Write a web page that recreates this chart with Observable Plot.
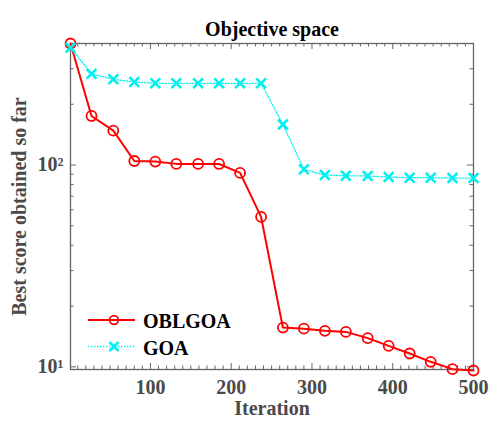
<!DOCTYPE html>
<html><head><meta charset="utf-8">
<script src="https://cdn.jsdelivr.net/npm/d3@7"></script>
<script src="https://cdn.jsdelivr.net/npm/@observablehq/plot@0.6"></script>
<style>body{margin:0;background:#fff} #chart{position:relative;width:491px;height:426px}</style>
</head><body><div id="chart"></div>
<script>
const iterations = [1,27,54,80,106,132,159,185,211,237,264,290,316,342,369,395,421,447,474,500];
const oblgoa = [400,175,148,104.7,104,101.3,101.3,101.2,91.4,55.3,15.65,15.45,15.08,14.9,13.87,12.7,11.64,10.59,9.74,9.59];
const goa = [381,283,266,258,254,254,254,254,254,254,159,95.2,89.2,88.5,88.2,87.2,86.5,86.5,86.2,86.2];
const seriesNames = ["OBLGOA","GOA"];
const xMajor = [100,200,300,400,500];
const xMinor = d3.range(10,500,10).filter(d => d % 100 !== 0);
const yMajor = [10,100];
const yMinor = [20,30,40,50,60,70,80,90,200,300];
const yTickLabels = {10:"10¹",100:"10²"};
const titleText = "Objective space";
const xLabel = "Iteration";
const yLabel = "Best score obtained so far";

const W=491,H=426,mL=70,mR=18,mT=43,mB=57;
const pw=W-mL-mR, ph=H-mT-mB;
const axisColor="#666";
const labelColor="#4a4a4a";
const red="#ff0000", cyan="#00f0f0";
const font="'Liberation Serif','Times New Roman',serif";

const plot = Plot.plot({
  width:W,height:H,marginLeft:mL,marginRight:mR,marginTop:mT,marginBottom:mB,
  style:{fontFamily:font,fontWeight:"bold",fontSize:"20px",background:"#fff",overflow:"visible"},
  x:{domain:[1,500]},
  y:{type:"log",domain:[9.7,400]},
  marks:[
    Plot.ruleX(xMajor,{x:d=>d,insetTop:ph-6,stroke:axisColor}),
    Plot.ruleX(xMajor,{x:d=>d,insetBottom:ph-6,stroke:axisColor}),
    Plot.ruleX(xMinor,{x:d=>d,insetTop:ph-3.5,stroke:axisColor}),
    Plot.ruleX(xMinor,{x:d=>d,insetBottom:ph-3.5,stroke:axisColor}),
    Plot.ruleY(yMajor,{y:d=>d,insetRight:pw-6,stroke:axisColor}),
    Plot.ruleY(yMajor,{y:d=>d,insetLeft:pw-6,stroke:axisColor}),
    Plot.ruleY(yMinor,{y:d=>d,insetRight:pw-3.5,stroke:axisColor}),
    Plot.ruleY(yMinor,{y:d=>d,insetLeft:pw-3.5,stroke:axisColor}),
    Plot.axisX(xMajor,{tickSize:0,tickPadding:10,label:null,color:labelColor,fontSize:20}),
    Plot.axisY(yMajor,{tickSize:0,tickPadding:7,label:null,color:labelColor,fontSize:20,tickFormat:d=>yTickLabels[d]}),
    Plot.frame({stroke:axisColor,strokeWidth:1.3}),
    Plot.line(iterations,{x:d=>d,y:(d,i)=>oblgoa[i],stroke:red,strokeWidth:2}),
    Plot.dot(iterations,{x:d=>d,y:(d,i)=>oblgoa[i],r:5,stroke:red,strokeWidth:1.8,fill:"none"}),
    Plot.line(iterations,{x:d=>d,y:(d,i)=>goa[i],stroke:cyan,strokeWidth:1.3,strokeDasharray:"1.3,1.7"}),
    Plot.dot(iterations,{x:d=>d,y:(d,i)=>goa[i],symbol:"times",r:4.5,stroke:cyan,strokeWidth:2.6}),
    Plot.text([titleText],{text:d=>d,frameAnchor:"top",dy:-21.6,fill:"#000",fontSize:20,fontWeight:"bold"}),
    Plot.text([xLabel],{text:d=>d,frameAnchor:"bottom",dy:45,fill:labelColor,fontSize:20,fontWeight:"bold"}),
    Plot.text([yLabel],{text:d=>d,frameAnchor:"left",textAnchor:"middle",rotate:-90,dx:-51.4,fill:labelColor,fontSize:20,fontWeight:"bold"})
  ]
});
document.getElementById("chart").appendChild(plot);

// legend (no box), lower left inside plot area
const svg = d3.select(plot);
const lg = svg.append("g").attr("font-family",font).attr("font-weight","bold").attr("font-size",20).attr("text-anchor","start");
const rows = [
  {name:seriesNames[0],y:320,color:red,dash:null,w:2,sym:"circle"},
  {name:seriesNames[1],y:346.5,color:cyan,dash:"1.3,1.7",w:1.3,sym:"times"}
];
rows.forEach(r=>{
  lg.append("line").attr("x1",88).attr("x2",135).attr("y1",r.y).attr("y2",r.y)
    .attr("stroke",r.color).attr("stroke-width",r.w).attr("stroke-dasharray",r.dash);
  if(r.sym==="circle"){
    lg.append("circle").attr("cx",114).attr("cy",r.y).attr("r",4.3).attr("fill","none").attr("stroke",r.color).attr("stroke-width",1.8);
  } else {
    lg.append("path").attr("d",d3.symbol(d3.symbolTimes,Math.PI*4.2*4.2)()).attr("transform",`translate(114,${r.y})`)
      .attr("fill","none").attr("stroke",r.color).attr("stroke-width",2.6);
  }
  lg.append("text").attr("x",143).attr("y",r.y+8).attr("text-anchor","start").attr("fill","#000").text(r.name);
});
</script></body></html>
